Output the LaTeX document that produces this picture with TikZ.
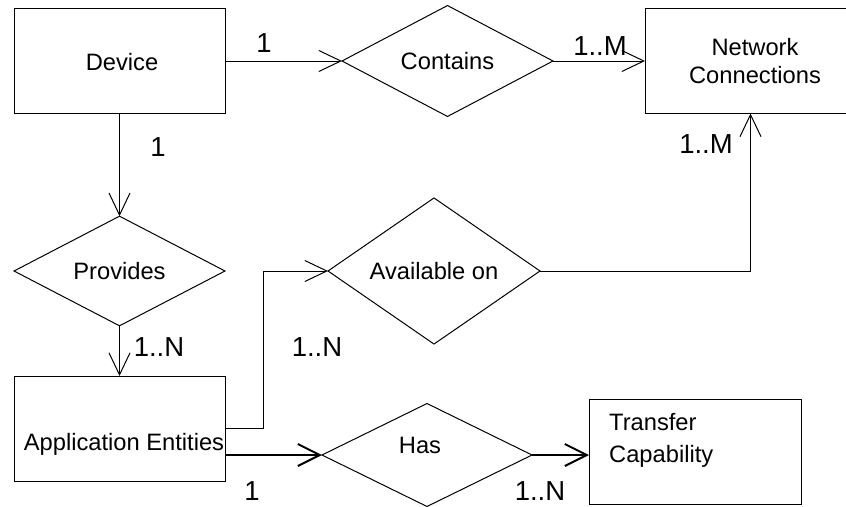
\documentclass[tikz,border=0pt]{standalone}
\usepackage{fontspec}
\setmainfont{Liberation Sans}
\usetikzlibrary{arrows.meta,shapes.geometric}
\begin{document}
\begin{tikzpicture}[x=1pt,y=-1pt,
  entity/.style={draw, line width=1pt, rectangle, inner sep=0, outer sep=0, minimum width=211pt, minimum height=105pt},
  rel/.style={draw, line width=1pt, diamond, inner sep=0, outer sep=0, minimum width=211pt, minimum height=104pt, font=\fontsize{23.7}{28}\selectfont},
  etext/.style={inner sep=0, font=\fontsize{23.7}{28}\selectfont},
  card/.style={inner sep=0, anchor=base, font=\fontsize{27.5}{32}\selectfont},
  conn/.style={draw, line width=1pt, -{Straight Barb[length=22pt,width=21pt,line width=1pt]}},
  thickconn/.style={draw, line width=2pt, -{Straight Barb[length=22pt,width=22pt,line width=2pt]}}]
\useasboundingbox (0,0) rectangle (846,506);
\begin{scope}
\clip (0,0) rectangle (846,506);
% entities
\node[entity] (dev) at (119.5,61) {};
\node[etext, anchor=base] (devt) at (122,70) {Device};
\node[entity] (net) at (750.5,61) {};
\node[etext, align=center, anchor=center] (nett) at (755,61) {Network\\Connections};
\node[entity] (app) at (119.5,428.5) {};
\node[etext, anchor=base] (appt) at (124,450) {Application Entities};
\node[entity, minimum width=212pt] (trans) at (695,451.5) {};
\node[etext, anchor=base west] (trans1) at (609,430) {Transfer};
\node[etext, anchor=base west] (trans2) at (609,462) {Capability};
% relationships
\node[rel] (cont) at (447.5,61) {Contains};
\node[rel] (prov) at (119.5,271) {Provides};
\node[rel, minimum width=212pt] (avail) at (434,271) {Available on};
\node[rel, minimum width=210pt, minimum height=103pt] (has) at (427,455) {};
\node[etext, anchor=base] (hast) at (420,453) {Has};
% connectors
\draw[conn] (dev.east) -- (cont.west);
\draw[conn] (cont.east) -- (net.west);
\draw[conn] (dev.south) -- (prov.north);
\draw[conn] (prov.south) -- (app.north);
\draw[conn] (app.east) -- ++(38,0) |- (avail.west);
\draw[conn] (avail.east) -| (net.south);
\draw[thickconn] ([yshift=-26.5pt]app.east) -- (has.west);
\draw[thickconn] (has.east) -- (has.east -| trans.west);
% cardinalities
\node[card] (c1) at (264,52) {1};
\node[card] (c2) at (600,55) {1..M};
\node[card] (c3) at (158,156) {1};
\node[card] (c4) at (706,153) {1..M};
\node[card] (c5) at (159,356) {1..N};
\node[card] (c6) at (317,356) {1..N};
\node[card] (c7) at (252,500) {1};
\node[card] (c8) at (540,500) {1..N};
\end{scope}
\end{tikzpicture}
\end{document}
